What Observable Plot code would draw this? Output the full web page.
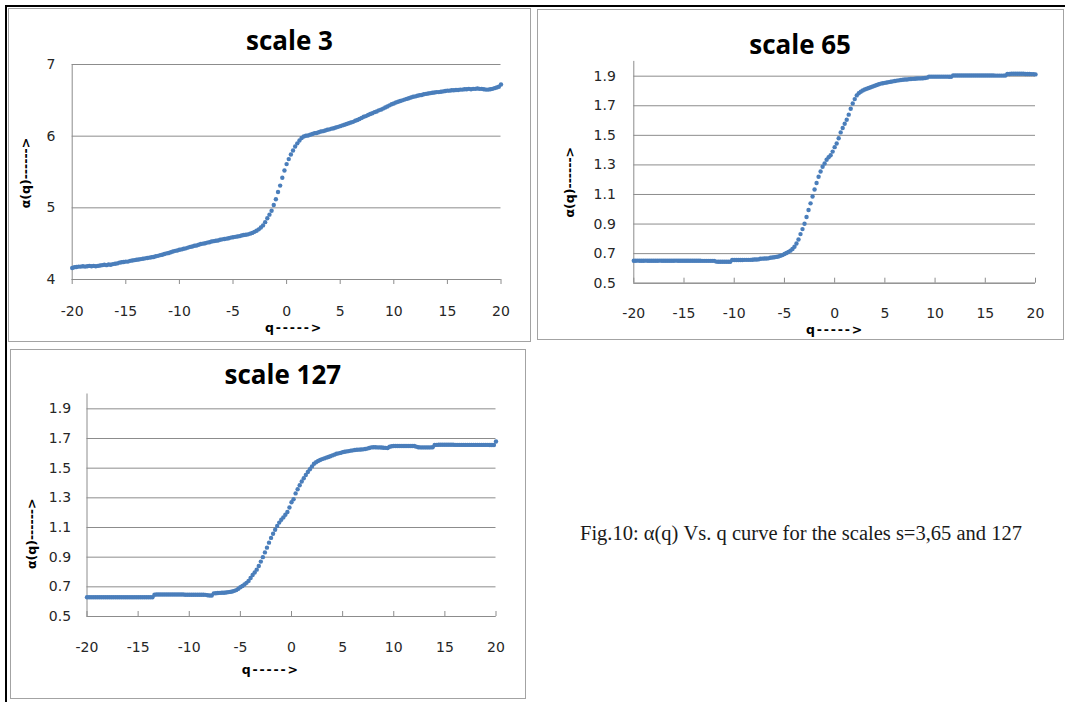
<!DOCTYPE html>
<html>
<head>
<meta charset="utf-8">
<script src="https://cdn.jsdelivr.net/npm/d3@7"></script>
<script src="https://cdn.jsdelivr.net/npm/@observablehq/plot@0.6"></script>
<style>
html, body { margin: 0; padding: 0; background: #fff; }
#page { position: relative; width: 1065px; height: 702px; overflow: hidden; background: #fff; }
.frame { position: absolute; border: 1px solid #a3a3a3; box-sizing: border-box; }
.panel { position: absolute; }
.black { position: absolute; background: #000; }
#caption { position: absolute; left: 580px; top: 523px; font-family: "Liberation Serif", serif; font-size: 20.5px; line-height: 20.5px; color: #1a1a1a; white-space: nowrap; }
</style>
</head>
<body>
<div id="page"></div>
<script>
// ---------- data ----------
const qValues = [
-20,-19.8,-19.6,-19.4,-19.2,-19,-18.8,-18.6,-18.4,-18.2,
-18,-17.8,-17.6,-17.4,-17.2,-17,-16.8,-16.6,-16.4,-16.2,
-16,-15.8,-15.6,-15.4,-15.2,-15,-14.8,-14.6,-14.4,-14.2,
-14,-13.8,-13.6,-13.4,-13.2,-13,-12.8,-12.6,-12.4,-12.2,
-12,-11.8,-11.6,-11.4,-11.2,-11,-10.8,-10.6,-10.4,-10.2,
-10,-9.8,-9.6,-9.4,-9.2,-9,-8.8,-8.6,-8.4,-8.2,
-8,-7.8,-7.6,-7.4,-7.2,-7,-6.8,-6.6,-6.4,-6.2,
-6,-5.8,-5.6,-5.4,-5.2,-5,-4.8,-4.6,-4.4,-4.2,
-4,-3.8,-3.6,-3.4,-3.2,-3,-2.8,-2.6,-2.4,-2.2,
-2,-1.8,-1.6,-1.4,-1.2,-1,-0.8,-0.6,-0.4,-0.2,
0,0.2,0.4,0.6,0.8,1,1.2,1.4,1.6,1.8,
2,2.2,2.4,2.6,2.8,3,3.2,3.4,3.6,3.8,
4,4.2,4.4,4.6,4.8,5,5.2,5.4,5.6,5.8,
6,6.2,6.4,6.6,6.8,7,7.2,7.4,7.6,7.8,
8,8.2,8.4,8.6,8.8,9,9.2,9.4,9.6,9.8,
10,10.2,10.4,10.6,10.8,11,11.2,11.4,11.6,11.8,
12,12.2,12.4,12.6,12.8,13,13.2,13.4,13.6,13.8,
14,14.2,14.4,14.6,14.8,15,15.2,15.4,15.6,15.8,
16,16.2,16.4,16.6,16.8,17,17.2,17.4,17.6,17.8,
18,18.2,18.4,18.6,18.8,19,19.2,19.4,19.6,19.8,
20];

const alphaScale3 = [
4.16,4.17,4.175,4.18,4.18, 4.185,4.18,4.185,4.19,4.185,
4.19,4.185,4.19,4.195,4.2, 4.205,4.2,4.21,4.205,4.215,
4.22,4.225,4.235,4.24,4.245, 4.25,4.25,4.26,4.265,4.27,
4.275,4.28,4.285,4.29,4.295, 4.3,4.305,4.31,4.315,4.325,
4.33,4.34,4.345,4.355,4.365, 4.37,4.38,4.39,4.4,4.405,
4.415,4.42,4.43,4.435,4.445, 4.455,4.46,4.47,4.475,4.485,
4.495,4.5,4.505,4.515,4.52, 4.53,4.535,4.54,4.545,4.555,
4.56,4.565,4.57,4.575,4.585, 4.59,4.595,4.6,4.605,4.615,
4.62,4.625,4.63,4.64,4.65, 4.665,4.68,4.7,4.725,4.755,
4.8,4.855,4.905,4.96,5.04, 5.12,5.22,5.31,5.42,5.52,
5.61,5.68,5.745,5.8,5.855, 5.9,5.94,5.975,5.995,6.005,
6.01,6.02,6.03,6.04,6.045, 6.055,6.065,6.07,6.08,6.09,
6.095,6.105,6.11,6.12,6.13, 6.14,6.15,6.16,6.17,6.18,
6.19,6.2,6.215,6.225,6.24, 6.255,6.27,6.28,6.295,6.31,
6.32,6.335,6.345,6.36,6.37, 6.385,6.4,6.415,6.43,6.445,
6.455,6.47,6.48,6.49,6.5, 6.51,6.52,6.53,6.54,6.55,
6.555,6.565,6.57,6.575,6.585, 6.59,6.595,6.6,6.605,6.61,
6.615,6.615,6.62,6.625,6.63, 6.635,6.635,6.64,6.64,6.645,
6.645,6.65,6.65,6.655,6.655, 6.66,6.655,6.66,6.66,6.665,
6.66,6.66,6.655,6.65,6.65, 6.655,6.66,6.67,6.68,6.69,
6.72];

const alphaScale65 = [
0.652,0.652,0.653,0.652,0.652, 0.652,0.653,0.652,0.652,0.652,
0.652,0.652,0.652,0.653,0.652, 0.652,0.652,0.652,0.652,0.652,
0.652,0.653,0.652,0.652,0.652, 0.652,0.652,0.652,0.652,0.652,
0.652,0.652,0.652,0.652,0.651, 0.651,0.651,0.651,0.651,0.651,
0.651,0.646,0.645,0.645,0.645, 0.645,0.645,0.645,0.645,0.657,
0.657,0.657,0.657,0.657,0.657, 0.658,0.658,0.658,0.658,0.659,
0.66,0.66,0.661,0.665,0.666, 0.667,0.667,0.668,0.672,0.674,
0.676,0.678,0.681,0.686,0.69, 0.697,0.704,0.711,0.72,0.731,
0.746,0.768,0.796,0.832,0.866, 0.902,0.948,0.995,1.04,1.086,
1.134,1.178,1.22,1.255,1.288, 1.31,1.335,1.352,1.365,1.39,
1.42,1.445,1.48,1.52,1.55, 1.578,1.605,1.64,1.68,1.715,
1.745,1.77,1.785,1.795,1.803, 1.81,1.815,1.82,1.825,1.83,
1.835,1.84,1.845,1.85,1.852, 1.855,1.857,1.86,1.862,1.865,
1.867,1.87,1.872,1.874,1.876, 1.878,1.878,1.88,1.881,1.882,
1.883,1.884,1.885,1.885,1.886, 1.888,1.89,1.897,1.897,1.897,
1.897,1.897,1.897,1.897,1.897, 1.897,1.897,1.896,1.896,1.905,
1.905,1.905,1.905,1.905,1.905, 1.905,1.905,1.905,1.905,1.905,
1.905,1.905,1.905,1.905,1.905, 1.905,1.905,1.905,1.905,1.905,
1.904,1.904,1.904,1.904,1.904, 1.905,1.915,1.915,1.916,1.916,
1.916,1.916,1.916,1.916,1.916, 1.915,1.915,1.915,1.914,1.914,
1.912];

const alphaScale127 = [
0.63,0.63,0.63,0.63,0.63, 0.63,0.63,0.63,0.63,0.63,
0.63,0.63,0.63,0.63,0.63, 0.63,0.63,0.63,0.63,0.63,
0.63,0.63,0.63,0.63,0.63, 0.63,0.63,0.63,0.63,0.63,
0.63,0.63,0.63,0.647,0.648, 0.648,0.648,0.648,0.648,0.648,
0.648,0.648,0.648,0.648,0.648, 0.648,0.648,0.648,0.647,0.647,
0.647,0.647,0.647,0.647,0.647, 0.647,0.647,0.647,0.646,0.643,
0.642,0.642,0.656,0.657,0.658, 0.659,0.66,0.66,0.662,0.664,
0.666,0.669,0.673,0.678,0.687, 0.697,0.706,0.716,0.727,0.74,
0.76,0.78,0.797,0.816,0.84, 0.87,0.9,0.932,0.964,0.998,
1.03,1.058,1.085,1.11,1.133, 1.152,1.168,1.186,1.205,1.235,
1.27,1.29,1.33,1.358,1.385, 1.41,1.432,1.454,1.474,1.493,
1.512,1.53,1.54,1.548,1.555, 1.561,1.566,1.571,1.575,1.58,
1.586,1.591,1.597,1.6,1.603, 1.608,1.611,1.613,1.615,1.618,
1.62,1.622,1.624,1.625,1.626, 1.627,1.629,1.632,1.636,1.64,
1.641,1.641,1.64,1.64,1.639, 1.638,1.637,1.636,1.644,1.648,
1.649,1.649,1.649,1.649,1.649, 1.649,1.649,1.649,1.649,1.649,
1.649,1.645,1.641,1.64,1.64, 1.64,1.64,1.64,1.64,1.641,
1.656,1.657,1.658,1.658,1.658, 1.658,1.658,1.658,1.658,1.658,
1.657,1.657,1.657,1.657,1.657, 1.657,1.657,1.657,1.657,1.657,
1.657,1.657,1.657,1.657,1.657, 1.657,1.657,1.656,1.656,1.656,
1.68];

const xTicks = [-20, -15, -10, -5, 0, 5, 10, 15, 20];
const yTicksScale3 = [4, 5, 6, 7];
const yTicksScale65 = [0.5, 0.7, 0.9, 1.1, 1.3, 1.5, 1.7, 1.9];
const yTicksScale127 = [0.5, 0.7, 0.9, 1.1, 1.3, 1.5, 1.7, 1.9];
const panelTitles = ["scale 3", "scale 65", "scale 127"];
const yAxisTitle = "α(q)------>";
const xAxisTitle = "q----->";
const captionText = "Fig.10: α(q) Vs. q curve for the scales s=3,65 and 127";

// ---------- style ----------
const BLUE = "#4a7ebb", GRID = "#8c8c8c", INK = "#262626";
const FS = 14;

const page = document.getElementById("page");
function addDiv(cls, l, t, w, h) {
  const d = document.createElement("div");
  d.className = cls;
  Object.assign(d.style, {left: l + "px", top: t + "px", width: w + "px", height: h + "px"});
  page.appendChild(d);
  return d;
}

// outer black lines
addDiv("black", 5, 5, 1060, 2);
addDiv("black", 5, 5, 2, 697);

const panels = [
  {box: [8, 8, 523, 334], area: [71.7, 500.5, 64, 279], values: alphaScale3,
   yDomain: [4, 7], yTicks: yTicksScale3, yFmt: d => String(d), tickOut: true,
   title: panelTitles[0], titlePos: [289, 49.3], yTitlePos: [25.3, 172.5], xTitlePos: [293.6, 331.7],
   xLabelCenter: 310, yLabelRight: 55},
  {box: [537, 9, 527, 331], area: [633.3, 1035, 60.9, 282.7], values: alphaScale65,
   yDomain: [0.5, 2.0], yTicks: yTicksScale65, yFmt: d3.format(".1f"), tickOut: false,
   title: panelTitles[1], titlePos: [799.6, 53], yTitlePos: [569.4, 181.7], xTitlePos: [834.6, 333.5],
   xLabelCenter: 312.3, yLabelRight: 615.3},
  {box: [10, 349, 516, 350], area: [86.5, 495.5, 393.5, 616], values: alphaScale127,
   yDomain: [0.5, 2.0], yTicks: yTicksScale127, yFmt: d3.format(".1f"), tickOut: false,
   title: panelTitles[2], titlePos: [282.4, 383.3], yTitlePos: [31, 533.3], xTitlePos: [270.3, 673],
   xLabelCenter: 646.7, yLabelRight: 70.6}
];

for (const p of panels) {
  const [bl, bt, bw, bh] = p.box;
  const [ax0, ax1, ay0, ay1] = p.area;
  addDiv("frame", bl, bt, bw, bh);
  const holder = addDiv("panel", bl, bt, bw, bh);
  const mL = ax0 - bl, mR = bl + bw - ax1, mT = ay0 - bt, mB = bt + bh - ay1;
  const plotH = ay1 - ay0;
  const data = qValues.map((x, i) => ({q: x, a: p.values[i]}));
  const tickSize = p.tickOut ? 5 : 0;
  const xPad = p.xLabelCenter - ay1 - 0.345 * FS - tickSize;
  const yPad = ax0 - p.yLabelRight;
  const rel = ([tx, ty]) => ({dx: tx - ax0, dy: ty - ay0});
  const svg = Plot.plot({
    width: bw, height: bh,
    marginLeft: mL, marginRight: mR, marginTop: mT, marginBottom: mB,
    x: {domain: d3.extent(xTicks), label: null},
    y: {domain: p.yDomain, label: null},
    style: {background: "transparent", fontFamily: "DejaVu Sans", fontSize: FS + "px", color: INK, overflow: "visible"},
    marks: [
      Plot.gridY(p.yTicks, {stroke: GRID, strokeOpacity: 1}),
      Plot.ruleY([p.yDomain[0]], {stroke: GRID}),
      Plot.ruleX([xTicks[0]], {stroke: GRID}),
      p.tickOut ? null : Plot.ruleX(xTicks, {x: d => d, stroke: GRID, insetTop: plotH - 5}),
      Plot.axisX(xTicks, {tickSize, tickPadding: xPad, tickFormat: d => String(d), stroke: GRID, fill: INK, label: null}),
      Plot.axisY(p.yTicks, {tickSize: 0, tickPadding: yPad, tickFormat: p.yFmt, fill: INK, label: null}),
      Plot.dot(data, {x: "q", y: "a", r: 2.2, fill: BLUE, stroke: null}),
      Plot.text([p.title], {text: d => d, frameAnchor: "top-left", ...rel(p.titlePos),
        textAnchor: "middle", lineAnchor: "bottom", fontFamily: "Open Sans", fontWeight: 700, fontSize: 26, fill: "#000"}),
      Plot.text([yAxisTitle], {text: d => d, frameAnchor: "top-left", ...rel(p.yTitlePos), rotate: -90,
        textAnchor: "middle", lineAnchor: "middle", fontFamily: "DejaVu Sans", fontWeight: 700, fontSize: 12.5, fill: "#000"}),
      Plot.text([xAxisTitle], {text: d => d, frameAnchor: "top-left", ...rel(p.xTitlePos),
        textAnchor: "middle", lineAnchor: "bottom", fontFamily: "DejaVu Sans", fontWeight: 700, fontSize: 12.5, fill: "#000"})
    ]
  });
  d3.select(svg).selectAll("text").filter(function () { return this.textContent === xAxisTitle; })
    .style("letter-spacing", "1.8px");
  holder.appendChild(svg);
}

const cap = document.createElement("div");
cap.id = "caption";
cap.textContent = captionText;
page.appendChild(cap);
</script>
</body>
</html>
